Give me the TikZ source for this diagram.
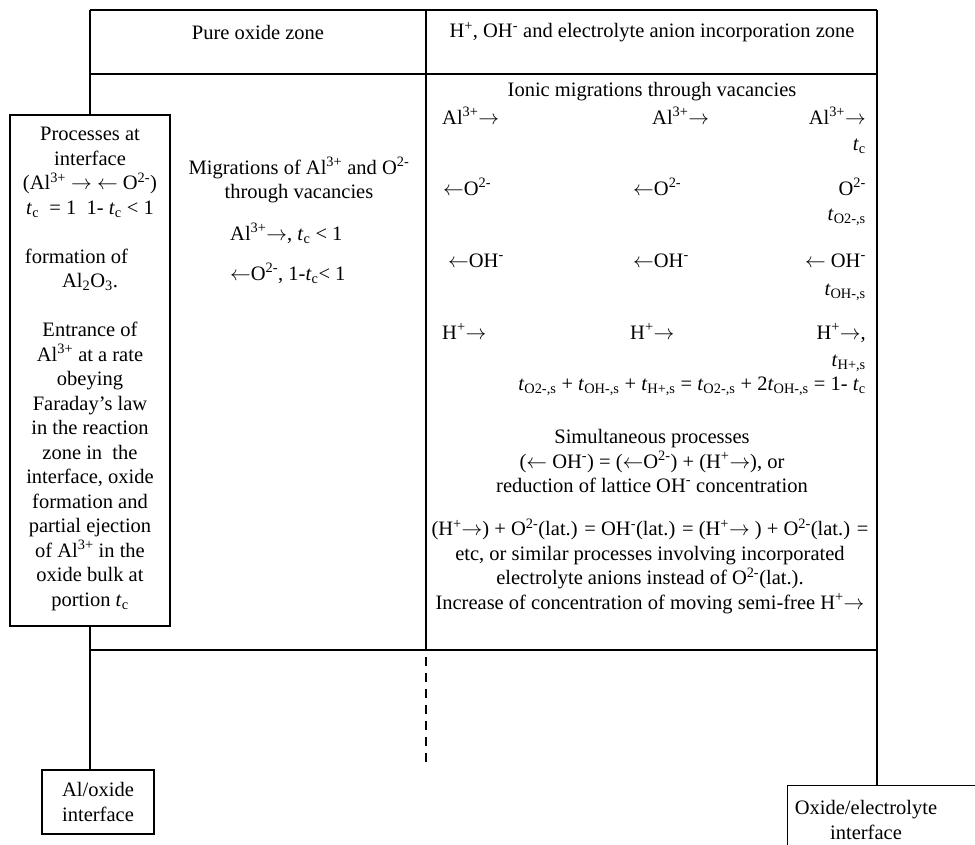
\documentclass[tikz,border=0pt]{standalone}
\usepackage{fontspec}
\setmainfont{Liberation Serif}
\newcommand{\sps}[1]{\textsuperscript{#1}}
\newcommand{\sbs}[1]{\textsubscript{#1}}
\newcommand{\myra}{$\rightarrow$}
\newcommand{\myla}{$\leftarrow$}
\newcommand{\Tc}{\textit{t}\textsubscript{c}}
\newcommand{\Ts}[1]{\textit{t}\textsubscript{#1}}
\tikzset{
  txt/.style={inner sep=0pt, font=\fontsize{20.5}{24.5}\selectfont},
  ctxt/.style={txt, align=center},
  boxnode/.style={draw, line width=1.3pt, inner sep=0pt},
  tbl/.style={line width=1.4pt},
}
\begin{document}
\begin{tikzpicture}[x=1pt,y=-1pt]
\useasboundingbox (0,0) rectangle (975,845);
\clip (0,0) rectangle (975,845);
% coordinates of the table frame
\coordinate (TL) at (90,10);
\coordinate (TR) at (877,10);
\coordinate (HL) at (90,74);
\coordinate (HR) at (877,74);
\coordinate (DT) at (426,10);
\coordinate (DB) at (426,650);
\coordinate (DS) at (426,657);
\coordinate (DE) at (426,762);
\coordinate (BL) at (90,650);
\coordinate (BR) at (877,650);

% boxes
\node[boxnode, minimum width=160pt, minimum height=511pt] (proc) at (90,370.5) {};
\node[boxnode, ctxt, minimum width=112pt, minimum height=64pt] (alox) at (98,802) {Al/oxide\\interface};
\node[boxnode, minimum width=195pt, minimum height=66pt, anchor=north west] (oxel) at (787,785) {};
\node[ctxt] (oxeltext) at (866,820) {Oxide/electrolyte\\interface};

% table lines
\draw[tbl] (TL) -- (TR);
\draw[tbl] (HL) -- (HR);
\draw[tbl] (BL) -- (BR);
\draw[tbl] (DT) -- (DB);
\draw[tbl, dash pattern=on 9pt off 7pt] (DS) -- (DE);
\draw[tbl] (TL) -- (proc.north);
\draw[tbl] (proc.south) -- (proc.south |- alox.north);
\draw[tbl] (TR) -- (TR |- oxel.north);

% headers
\node[txt] (h1) at (258,32) {Pure oxide zone};
\node[txt] (h2) at (652,32) {H\sps{+}, OH\sps{-} and electrolyte anion incorporation zone};

% left box text
\node[ctxt] (proctext) at (90,369) {Processes at\\
interface\\
(Al\sps{3+} \myra\ \myla\ O\sps{2-})\\
\Tc\ \ = 1\ \ 1- \Tc\ < 1\\
\mbox{}\\
formation of\rule{27pt}{0pt}\\
Al\sbs{2}O\sbs{3}.\\
\mbox{}\\
Entrance of\\
Al\sps{3+} at a rate\\
obeying\\
Faraday’s law\\
in the reaction\\
zone in\ \ the\\
interface, oxide\\
formation and\\
partial ejection\\
of Al\sps{3+} in the\\
oxide bulk at\\
portion \Tc};

% middle column
\node[ctxt] (mig) at (299,180) {Migrations of Al\sps{3+} and O\sps{2-}\\through vacancies};
\node[txt, anchor=mid west] (mal) at (230,238) {Al\sps{3+}\myra, \Tc\ < 1};
\node[txt, anchor=mid west] (mox) at (230,278) {\myla O\sps{2-}, 1-\Tc< 1};

% right column
\node[txt] (ionic) at (652,92) {Ionic migrations through vacancies};
\node[txt, anchor=mid west] (r1a) at (442,122) {Al\sps{3+}\myra};
\node[txt, anchor=mid west] (r1b) at (652,122) {Al\sps{3+}\myra};
\node[txt, anchor=mid east] (r1c) at (866,122) {Al\sps{3+}\myra};
\node[txt, anchor=mid east] (r1t) at (866,148) {\Tc};
\node[txt, anchor=mid west] (r2a) at (443,193) {\myla O\sps{2-}};
\node[txt, anchor=mid west] (r2b) at (633,193) {\myla O\sps{2-}};
\node[txt, anchor=mid east] (r2c) at (866,193) {O\sps{2-}};
\node[txt, anchor=mid east] (r2t) at (866,218) {\Ts{O2-,s}};
\node[txt, anchor=mid west] (r3a) at (448,265) {\myla OH\sps{-}};
\node[txt, anchor=mid west] (r3b) at (633,265) {\myla OH\sps{-}};
\node[txt, anchor=mid east] (r3c) at (866,265) {\myla\ OH\sps{-}};
\node[txt, anchor=mid east] (r3t) at (866,293) {\Ts{OH-,s}};
\node[txt, anchor=mid west] (r4a) at (442,337) {H\sps{+}\myra};
\node[txt, anchor=mid west] (r4b) at (630,337) {H\sps{+}\myra};
\node[txt, anchor=mid east] (r4c) at (866,337) {H\sps{+}\myra,};
\node[txt, anchor=mid east] (r4t) at (866,364) {\Ts{H+,s}};
\node[txt, anchor=mid east] (eq) at (866,388) {\Ts{O2-,s} +\ \Ts{OH-,s} + \Ts{H+,s} = \Ts{O2-,s} +\ 2\Ts{OH-,s} = 1- \Tc};
\node[ctxt] (simul) at (652,461) {Simultaneous processes\\
(\myla\ OH\sps{-}) = (\myla O\sps{2-}) + (H\sps{+}\myra), or\\
reduction of lattice OH\sps{-} concentration};
\node[ctxt] (lat) at (650,566) {(H\sps{+}\myra) + O\sps{2-}(lat.) = OH\sps{-}(lat.) = (H\sps{+}\myra\ ) + O\sps{2-}(lat.) =\\
etc, or similar processes involving incorporated\\
electrolyte anions instead of O\sps{2-}(lat.).\\
Increase of concentration of moving semi-free H\sps{+}\myra};
\end{tikzpicture}
\end{document}
